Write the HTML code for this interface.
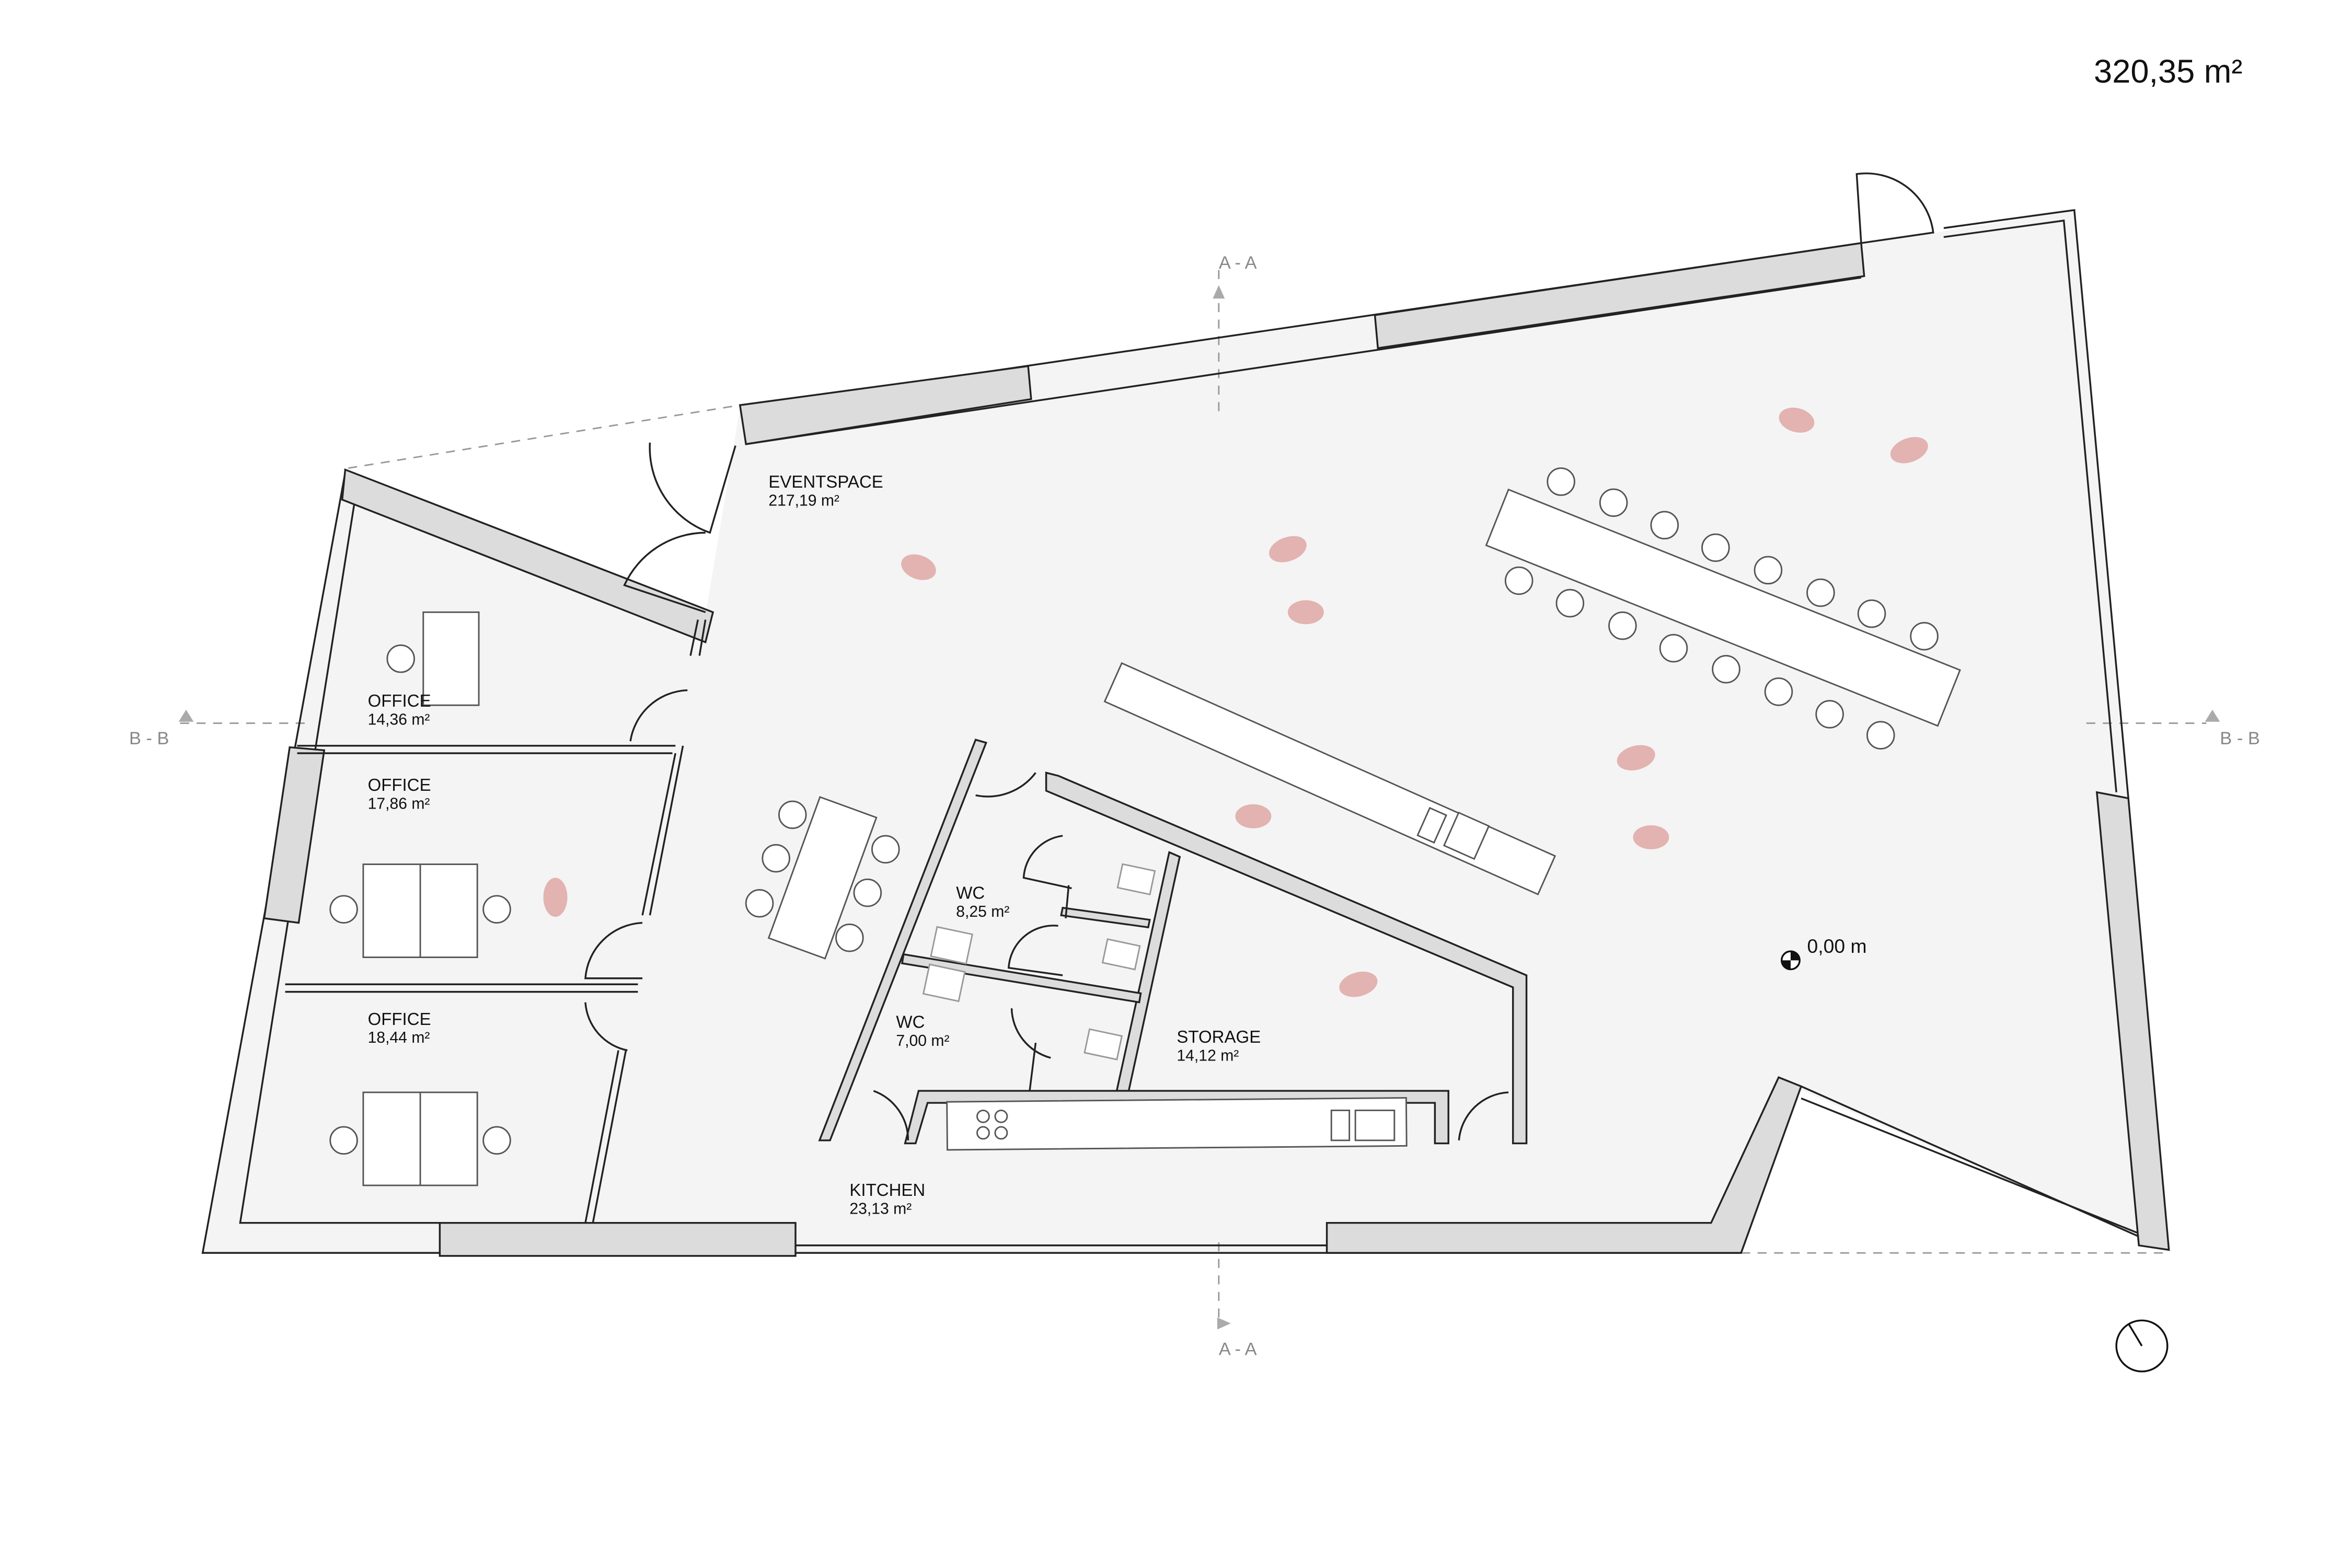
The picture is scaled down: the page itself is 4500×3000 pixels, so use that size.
<!DOCTYPE html>
<html><head><meta charset="utf-8"><style>
html,body{margin:0;padding:0;background:#fff}
svg{display:block}
text{font-family:"Liberation Sans",sans-serif;fill:#111}
</style></head><body>
<svg width="4500" height="3000" viewBox="0 0 1567 1045" preserveAspectRatio="none" xmlns="http://www.w3.org/2000/svg">
<rect width="1567" height="1045" fill="#fff"/>
<!-- floor -->
<polygon points="230,315 470,410 493,272 1240,162 1290,155 1382,140 1445,833 1185,720 1160,835 135,835" fill="#f4f4f4"/>
<!-- dashed outlines -->
<g stroke="#999" stroke-width="1" stroke-dasharray="6,5" fill="none">
<line x1="232" y1="312" x2="493" y2="270"/>
<line x1="1160" y1="835" x2="1445" y2="835"/>
<line x1="812" y1="180" x2="812" y2="275"/>
<line x1="812" y1="828" x2="812" y2="885"/>
<line x1="120" y1="482" x2="205" y2="482"/>
<line x1="1390" y1="482" x2="1470" y2="482"/>
</g>
<g fill="#aaa"><polygon points="812,190 808,199 816,199"/><polygon points="820,882 811,878 811,886"/><polygon points="124,473 119,481 129,481"/><polygon points="1474,473 1469,481 1479,481"/></g>
<!-- outer thin window lines -->
<g stroke="#222" stroke-width="1.2" fill="none">
<polyline points="493,272 1240,162"/>
<polyline points="497,296 1240,185"/>
<polyline points="1295,152 1382,140 1418,532"/>
<polyline points="1295,158 1375,147 1410,528"/>
<polyline points="230,315 135,835 1160,835"/>
<polyline points="236,336 160,815 293,815"/>
<polyline points="530,830 884,830"/>
<polyline points="1445,833 1200,724"/>
<polyline points="1425,822 1200,732"/>
</g>
<!-- thick walls -->
<g fill="#dcdcdc" stroke="#222" stroke-width="1.2">
<polygon points="493,270 685,244 687,266 497,296"/>
<polygon points="916,210 1240,162 1242,184 918,232"/>
<polygon points="230,313 475,408 470,428 228,333"/>
<polygon points="193,498 216,500 199,615 176,612"/>
<rect x="293" y="815" width="237" height="22"/>
<polygon points="884,815 1140,815 1185,718 1200,724 1160,835 884,835"/>
<polygon points="1397,528 1418,532 1445,833 1425,830"/>
<polygon points="650,493 657,495 553,760 546,760"/>
<polygon points="697,515 705,517 1017,650 1017,762 1008,762 1008,658 697,527"/>
<polygon points="779,568 786,571 752,727 744,727"/>
<polygon points="612,727 965,727 965,762 956,762 956,735 618,735 610,762 603,762"/>
<polygon points="602,636 760,662 759,668 601,642"/>
<polygon points="708,605 766,613 765,618 707,610"/>
</g>
<!-- thin interior walls -->
<g stroke="#222" stroke-width="1.2" fill="none">
<polyline points="198,497 450,497"/><polyline points="198,502 448,502"/>
<polyline points="455,497 433,610"/><polyline points="450,502 428,610"/>
<polyline points="190,656 425,656"/><polyline points="190,661 425,661"/>
<polyline points="417,700 395,815"/><polyline points="412,700 390,815"/>
<polyline points="465,413 460,437"/><polyline points="470,413 466,437"/>
<polyline points="690,695 686,727"/>
<polyline points="712,590 710,612"/>
</g>
<!-- doors -->
<g stroke="#222" stroke-width="1.2" fill="none">
<path d="M433,295 A60,60 0 0 0 473,355 L490,297"/>
<path d="M470,355 A60,60 0 0 0 416,390 L470,408"/>
<path d="M458,460 A40,40 0 0 0 420,494"/>
<path d="M428,615 A40,40 0 0 0 390,652 L428,652"/>
<path d="M390,668 A35,35 0 0 0 418,700"/>
<path d="M650,530 A40,40 0 0 0 690,515"/>
<path d="M708,557 A30,30 0 0 0 682,585 L714,592"/>
<path d="M705,617 A30,30 0 0 0 672,645 L708,650"/>
<path d="M674,672 A35,35 0 0 0 700,705"/>
<path d="M582,727 A35,35 0 0 1 605,760"/>
<path d="M1005,728 A35,35 0 0 0 972,760"/>
<path d="M1237,116 A45,45 0 0 1 1288,155 L1240,162 Z"/>
</g>
<!-- furniture -->
<g fill="#fff" stroke="#555" stroke-width="1">
<rect x="-162" y="-20" width="324" height="40" transform="translate(1148,405) rotate(21.8)"/>
<rect x="-158" y="-14" width="316" height="28" transform="translate(886,519) rotate(24)"/>
<rect x="-20" y="-50" width="40" height="100" transform="translate(548,585) rotate(20)"/>
<rect x="282" y="408" width="37" height="62"/>
<rect x="242" y="576" width="76" height="62"/><line x1="280" y1="576" x2="280" y2="638"/>
<rect x="242" y="728" width="76" height="62"/><line x1="280" y1="728" x2="280" y2="790"/>
<rect x="-153" y="-16" width="306" height="32" transform="translate(784,749) rotate(-0.5)"/>
<rect x="948" y="540" width="12" height="20" transform="rotate(24 954 550)"/>
<rect x="966" y="545" width="22" height="24" transform="rotate(24 977 557)"/>
<rect x="887" y="740" width="12" height="20"/><rect x="903" y="740" width="26" height="20"/>
</g>
<g fill="#fff" stroke="#999" stroke-width="1">
<rect x="746" y="578" width="22" height="16" transform="rotate(12 757 586)"/>
<rect x="736" y="628" width="22" height="16" transform="rotate(12 747 636)"/>
<rect x="724" y="688" width="22" height="16" transform="rotate(12 735 696)"/>
<rect x="622" y="620" width="24" height="20" transform="rotate(12 634 630)"/>
<rect x="617" y="645" width="24" height="20" transform="rotate(12 629 655)"/>
</g>
<g fill="#fff" stroke="#555" stroke-width="1">
<circle cx="1040" cy="321" r="9"/><circle cx="1075" cy="335" r="9"/><circle cx="1109" cy="350" r="9"/><circle cx="1143" cy="365" r="9"/><circle cx="1178" cy="380" r="9"/><circle cx="1213" cy="395" r="9"/><circle cx="1247" cy="409" r="9"/><circle cx="1282" cy="424" r="9"/>
<circle cx="1012" cy="387" r="9"/><circle cx="1046" cy="402" r="9"/><circle cx="1081" cy="417" r="9"/><circle cx="1115" cy="432" r="9"/><circle cx="1150" cy="446" r="9"/><circle cx="1185" cy="461" r="9"/><circle cx="1219" cy="476" r="9"/><circle cx="1253" cy="490" r="9"/>
<circle cx="528" cy="543" r="9"/><circle cx="517" cy="572" r="9"/><circle cx="506" cy="602" r="9"/><circle cx="590" cy="566" r="9"/><circle cx="578" cy="595" r="9"/><circle cx="566" cy="625" r="9"/>
<circle cx="267" cy="439" r="9"/><circle cx="229" cy="606" r="9"/><circle cx="331" cy="606" r="9"/><circle cx="229" cy="760" r="9"/><circle cx="331" cy="760" r="9"/>
<circle cx="655" cy="744" r="4"/><circle cx="667" cy="744" r="4"/><circle cx="655" cy="755" r="4"/><circle cx="667" cy="755" r="4"/>
</g>
<!-- people -->
<g fill="#e2b3b0">
<ellipse cx="612" cy="378" rx="12" ry="8" transform="rotate(20 612 378)"/>
<ellipse cx="858" cy="366" rx="13" ry="8" transform="rotate(-20 858 366)"/>
<ellipse cx="870" cy="408" rx="12" ry="8"/>
<ellipse cx="1197" cy="280" rx="12" ry="8" transform="rotate(15 1197 280)"/>
<ellipse cx="1272" cy="300" rx="13" ry="8" transform="rotate(-20 1272 300)"/>
<ellipse cx="1090" cy="505" rx="13" ry="8" transform="rotate(-15 1090 505)"/>
<ellipse cx="1100" cy="558" rx="12" ry="8"/>
<ellipse cx="835" cy="544" rx="12" ry="8"/>
<ellipse cx="905" cy="656" rx="13" ry="8" transform="rotate(-15 905 656)"/>
<ellipse cx="370" cy="598" rx="8" ry="13"/>
</g>
<!-- labels -->
<g font-size="11.5">
<text x="512" y="325">EVENTSPACE</text><text x="512" y="337" font-size="10.5">217,19 m²</text>
<text x="245" y="471">OFFICE</text><text x="245" y="483" font-size="10.5">14,36 m²</text>
<text x="245" y="527">OFFICE</text><text x="245" y="539" font-size="10.5">17,86 m²</text>
<text x="245" y="683">OFFICE</text><text x="245" y="695" font-size="10.5">18,44 m²</text>
<text x="637" y="599">WC</text><text x="637" y="611" font-size="10.5">8,25 m²</text>
<text x="597" y="685">WC</text><text x="597" y="697" font-size="10.5">7,00 m²</text>
<text x="784" y="695">STORAGE</text><text x="784" y="707" font-size="10.5">14,12 m²</text>
<text x="566" y="797">KITCHEN</text><text x="566" y="809" font-size="10.5">23,13 m²</text>
<text x="1204" y="635" font-size="13">0,00 m</text>
<text x="812" y="179" font-size="12" style="fill:#888">A - A</text>
<text x="812" y="903" font-size="12" style="fill:#888">A - A</text>
<text x="86" y="496" font-size="12" style="fill:#888">B - B</text>
<text x="1479" y="496" font-size="12" style="fill:#888">B - B</text>
<text x="1395" y="55" font-size="22">320,35 m²</text>
</g>
<circle cx="1193" cy="640" r="6" fill="#fff" stroke="#111" stroke-width="1.2"/>
<path d="M1193,634 A6,6 0 0 1 1199,640 L1193,640 Z M1193,646 A6,6 0 0 1 1187,640 L1193,640 Z" fill="#111"/>
<circle cx="1427" cy="897" r="17" fill="none" stroke="#111" stroke-width="1.2"/>
<line x1="1418" y1="882" x2="1427" y2="897" stroke="#111" stroke-width="1.2"/>
</svg>
</body></html>
